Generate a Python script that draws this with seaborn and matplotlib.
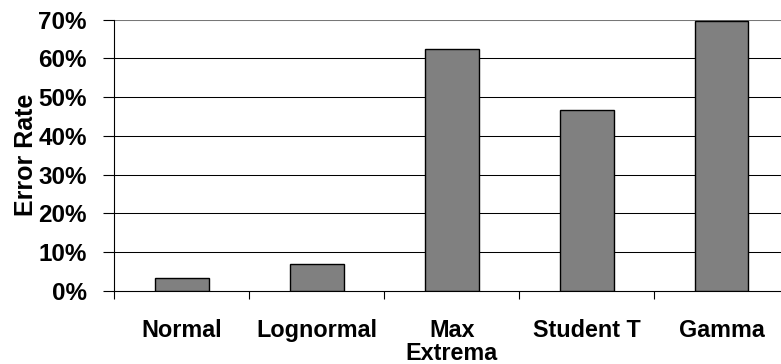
import matplotlib
matplotlib.use("Agg")
import matplotlib.pyplot as plt
import seaborn as sns
import pandas as pd
from matplotlib.ticker import FuncFormatter, FixedLocator

categories = ["Normal", "Lognormal", "Max\nExtrema", "Student T", "Gamma"]
error_rate = [3.4, 6.9, 62.3, 46.6, 69.6]
y_ticks = [0, 10, 20, 30, 40, 50, 60, 70]

sns.set_theme(style="white")
plt.rcParams["font.family"] = ["Liberation Sans", "DejaVu Sans"]
plt.rcParams["font.weight"] = "bold"
plt.rcParams["text.color"] = "black"
plt.rcParams["axes.labelcolor"] = "black"
plt.rcParams["xtick.color"] = "black"
plt.rcParams["ytick.color"] = "black"

df = pd.DataFrame({"cat": categories, "val": error_rate})

fig = plt.figure(figsize=(7.81, 3.64), dpi=100)
ax = fig.add_axes([0.1466, 0.2005, 0.8636, 0.7459])

sns.barplot(data=df, x="cat", y="val", color="#808080", saturation=1,
            width=0.4, edgecolor="black", linewidth=1.0, ax=ax, zorder=3)

ax.set_ylim(0, 70)
ax.set_xlim(-0.5, len(categories) - 0.5)
ax.yaxis.set_major_locator(FixedLocator(y_ticks))
ax.yaxis.set_major_formatter(FuncFormatter(lambda v, p: f"{int(round(v))}%"))
for t in y_ticks[1:]:
    ax.axhline(t, color="black", linewidth=0.75, zorder=1)
ax.axhline(70, color="#909090", linewidth=1.2, zorder=1)

ax.set_xticks(range(len(categories)))
ax.set_xticklabels(categories, fontsize=16.8, fontweight="bold", linespacing=1.0, color="black")
ax.set_xticks([i - 0.5 for i in range(len(categories) + 1)], minor=True)
ax.tick_params(axis="x", which="major", length=0, pad=20, labelcolor="black")
ax.tick_params(axis="x", which="minor", length=6, width=0.8, color="black", direction="out", bottom=True)
ax.tick_params(axis="y", which="major", length=8, width=0.8, color="black", direction="out",
               left=True, labelsize=17.5, pad=12, labelcolor="black")
for lbl in ax.get_yticklabels():
    lbl.set_fontweight("bold")

ax.set_xlabel("")
ax.set_ylabel("Error Rate", fontsize=18, fontweight="bold", labelpad=0, color="black")

for s in ["top", "right"]:
    ax.spines[s].set_visible(False)
for s in ["left", "bottom"]:
    ax.spines[s].set_color("black")
    ax.spines[s].set_linewidth(0.8)

fig.savefig("out.png", dpi=100)
